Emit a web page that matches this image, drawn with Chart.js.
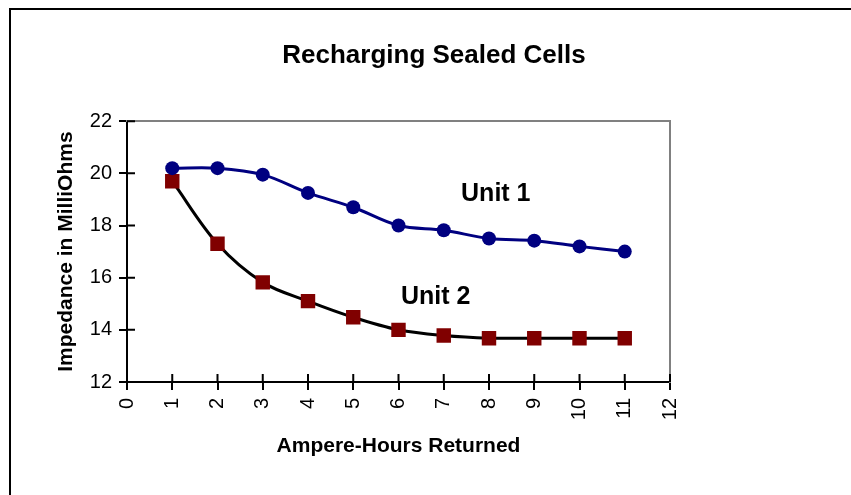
<!DOCTYPE html>
<html>
<head>
<meta charset="utf-8">
<title>Recharging Sealed Cells</title>
<script src="https://cdn.jsdelivr.net/npm/chart.js@4.4.1/dist/chart.umd.min.js"></script>
<style>
    html, body { margin: 0; padding: 0; background: #ffffff; }
    #wrap { position: relative; width: 851px; height: 495px; overflow: hidden; }
    #frame {
        position: absolute; left: 9px; top: 8px; width: 900px; height: 600px;
        border-top: 2px solid #000000; border-left: 2px solid #000000;
    }
    #chart { position: absolute; left: 0; top: 0; }
</style>
</head>
<body>
<div id="wrap">
    <div id="frame"></div>
    <canvas id="chart" width="851" height="495"></canvas>
</div>
<script>
// Ampere-hours returned (x values)
const ampereHours = [1, 2, 3, 4, 5, 6, 7, 8, 9, 10, 11];
// Impedance readings in milliohms
const unit1 = [20.2, 20.2, 19.95, 19.25, 18.7, 18.0, 17.82, 17.5, 17.42, 17.2, 17.0];
const unit2 = [19.7, 17.3, 15.82, 15.1, 14.48, 14.0, 13.78, 13.68, 13.68, 13.68, 13.68];
// Text notes placed inside the plot (data coordinates)
const noteText = ["Unit 1", "Unit 2"];
const noteX = [8.15, 6.82];
const noteY = [19.21, 15.25];

const fontFamily = "'Liberation Sans', Arial, Helvetica, sans-serif";

const toPoints = (ys) => ampereHours.map((x, i) => ({ x: x, y: ys[i] }));

// ticks that cross the axis line: Chart.js draws the outside half, this the inside half
const crossTicks = {
    id: "crossTicks",
    afterDatasetsDraw(chart) {
        const ctx = chart.ctx;
        const area = chart.chartArea;
        const xs = chart.scales.x, ys = chart.scales.y;
        ctx.save();
        ctx.strokeStyle = "#000000";
        ctx.lineWidth = 2;
        ctx.beginPath();
        xs.ticks.forEach((t) => {
            const px = xs.getPixelForValue(t.value);
            ctx.moveTo(px, area.bottom);
            ctx.lineTo(px, area.bottom - 8);
        });
        ys.ticks.forEach((t) => {
            const py = ys.getPixelForValue(t.value);
            ctx.moveTo(area.left, py);
            ctx.lineTo(area.left + 8, py);
        });
        ctx.stroke();
        ctx.restore();
    }
};

// "Unit 1" / "Unit 2" labels
const notes = {
    id: "notes",
    afterDatasetsDraw(chart) {
        const ctx = chart.ctx;
        const xs = chart.scales.x, ys = chart.scales.y;
        ctx.save();
        ctx.fillStyle = "#000000";
        ctx.font = "bold 25px " + fontFamily;
        ctx.textAlign = "center";
        ctx.textBaseline = "middle";
        for (let i = 0; i < noteText.length; i++) {
            ctx.fillText(noteText[i], xs.getPixelForValue(noteX[i]), ys.getPixelForValue(noteY[i]));
        }
        ctx.restore();
    }
};

const chart = new Chart(document.getElementById("chart"), {
    type: "line",
    plugins: [crossTicks, notes],
    data: {
        datasets: [
            {
                label: "Unit 1",
                data: toPoints(unit1),
                borderColor: "#000080",
                backgroundColor: "#000080",
                borderWidth: 3,
                tension: 0.35,
                pointStyle: "circle",
                pointRadius: 7,
                pointBorderWidth: 0,
                pointBackgroundColor: "#000080",
            },
            {
                label: "Unit 2",
                data: toPoints(unit2),
                borderColor: "#000000",
                backgroundColor: "#800000",
                borderWidth: 3,
                tension: 0.35,
                pointStyle: "rect",
                pointRadius: 10.2,
                pointBorderWidth: 0,
                pointBackgroundColor: "#800000",
            },
        ],
    },
    options: {
        responsive: false,
        animation: false,
        layout: { padding: { left: 17, right: 0, top: 0, bottom: 0 } },
        plugins: {
            legend: { display: false },
            tooltip: { enabled: false },
            title: {
                display: true,
                text: "Recharging Sealed Cells",
                color: "#000000",
                font: { family: fontFamily, size: 26, weight: "bold" },
                padding: { top: 40, bottom: 50 },
            },
        },
        scales: {
            x: {
                type: "linear",
                position: "bottom",
                min: 0,
                max: 12,
                afterFit: (s) => { s.height = 113; },
                ticks: {
                    stepSize: 1,
                    color: "#000000",
                    font: { family: fontFamily, size: 20 },
                    minRotation: 90,
                    maxRotation: 90,
                    padding: 8,
                },
                grid: { drawOnChartArea: false, drawTicks: true, tickLength: 8, color: "#000000", lineWidth: 2 },
                border: { color: "#000000", width: 2 },
                title: {
                    display: true,
                    text: "Ampere-Hours Returned",
                    color: "#000000",
                    font: { family: fontFamily, size: 21, weight: "bold" },
                    padding: { top: 0, bottom: 36 },
                },
            },
            y: {
                type: "linear",
                position: "left",
                min: 12,
                max: 22,
                afterFit: (s) => { s.width = 110; },
                ticks: {
                    stepSize: 2,
                    color: "#000000",
                    font: { family: fontFamily, size: 20 },
                    padding: 7,
                },
                grid: { drawOnChartArea: false, drawTicks: true, tickLength: 8, color: "#000000", lineWidth: 2 },
                border: { color: "#000000", width: 2 },
                title: {
                    display: true,
                    text: "Impedance in MilliOhms",
                    color: "#000000",
                    font: { family: fontFamily, size: 21, weight: "bold" },
                    padding: { top: 37, bottom: 0 },
                },
            },
            // empty axes that only give the grey top and right edges of the plot
            top: {
                type: "linear",
                position: "top",
                min: 0,
                max: 12,
                afterFit: (s) => { s.height = 0; },
                ticks: { display: false },
                grid: { display: false },
                border: { color: "#808080", width: 2 },
            },
            right: {
                type: "linear",
                position: "right",
                min: 12,
                max: 22,
                afterFit: (s) => { s.width = 181; },
                ticks: { display: false },
                grid: { display: false },
                border: { color: "#808080", width: 2 },
            },
        },
    },
});
</script>
</body>
</html>
